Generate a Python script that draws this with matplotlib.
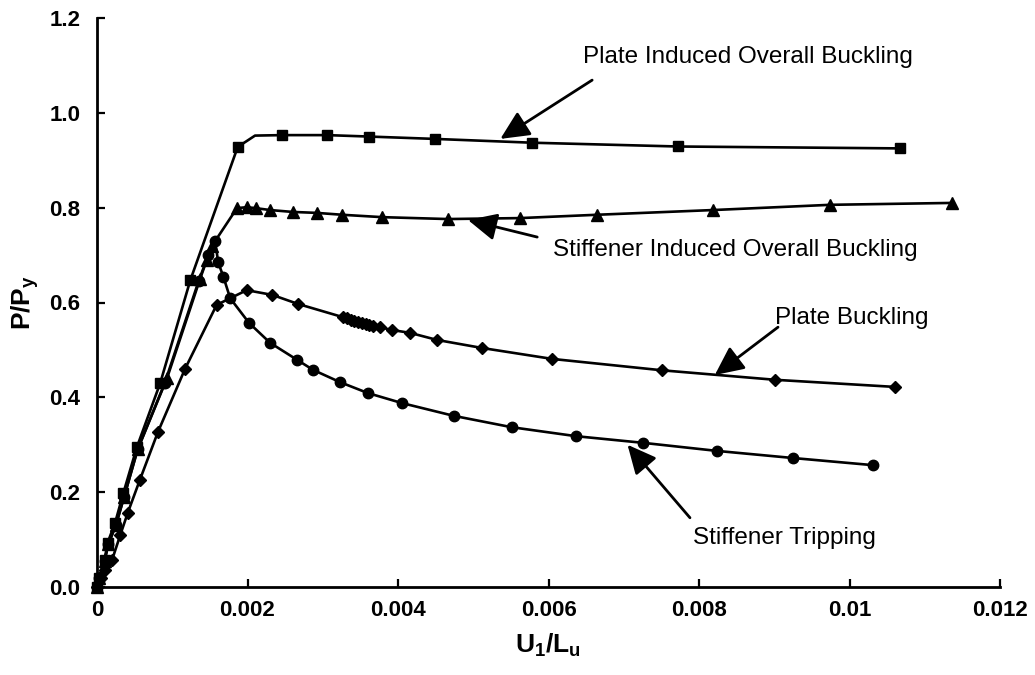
import matplotlib
matplotlib.use("Agg")
import matplotlib.pyplot as plt

plt.rcParams['font.family'] = ['Liberation Sans', 'DejaVu Sans']
plt.rcParams['mathtext.fontset'] = 'custom'
plt.rcParams['mathtext.rm'] = 'Liberation Sans'
plt.rcParams['mathtext.bf'] = 'Liberation Sans:bold'
plt.rcParams['mathtext.it'] = 'Liberation Sans:italic'

# Plate induced overall buckling (squares)
pio_u = [0, 0.00003, 0.0001, 0.00014, 0.00024, 0.00035, 0.00053, 0.00084, 0.00124,
         0.00187, 0.0021, 0.00246, 0.00306, 0.00361, 0.00449, 0.00578, 0.00772, 0.01067]
pio_v = [0, 0.02, 0.057, 0.093, 0.135, 0.198, 0.295, 0.43, 0.647,
         0.928, 0.952, 0.953, 0.953, 0.950, 0.945, 0.937, 0.929, 0.925]
pio_marked = [0, 1, 2, 3, 4, 5, 6, 7, 8, 9, 11, 12, 13, 14, 15, 16, 17]

# Stiffener induced overall buckling (triangles)
sio_u = [0, 0.00003, 0.0001, 0.00015, 0.00025, 0.00036, 0.00054, 0.00093, 0.00137,
         0.00146, 0.00153, 0.00186, 0.00199, 0.00211, 0.0023, 0.0026, 0.00292, 0.00326,
         0.00379, 0.00466, 0.00562, 0.00664, 0.00819, 0.00974, 0.01136]
sio_v = [0, 0.02, 0.055, 0.09, 0.13, 0.19, 0.29, 0.44, 0.65,
         0.69, 0.72, 0.799, 0.801, 0.799, 0.795, 0.791, 0.789, 0.785,
         0.780, 0.776, 0.778, 0.785, 0.795, 0.806, 0.810]

# Plate buckling (diamonds)
pb_u = [0, 0.00005, 0.0001, 0.0002, 0.00031, 0.00041, 0.00057, 0.00081, 0.00117,
        0.00159, 0.00199, 0.00233, 0.00267, 0.00327, 0.00332, 0.00337, 0.00342,
        0.00347, 0.00352, 0.00357, 0.00362, 0.00367, 0.00376, 0.00392, 0.00416,
        0.00452, 0.00512, 0.00605, 0.00751, 0.00901, 0.0106]
pb_v = [0, 0.02, 0.035, 0.057, 0.11, 0.157, 0.226, 0.327, 0.46,
        0.595, 0.626, 0.616, 0.597, 0.569, 0.567, 0.564, 0.562,
        0.559, 0.557, 0.555, 0.553, 0.551, 0.548, 0.542, 0.536,
        0.521, 0.504, 0.481, 0.457, 0.437, 0.422]

# Stiffener tripping (circles)
st_u = [0, 0.00003, 0.0001, 0.00015, 0.00025, 0.00036, 0.00054, 0.0009, 0.00135,
        0.00148, 0.00157, 0.00161, 0.00168, 0.00177, 0.00202, 0.0023, 0.00266,
        0.00287, 0.00323, 0.0036, 0.00405, 0.00474, 0.00551, 0.00637, 0.00726,
        0.00824, 0.00925, 0.01031]
st_v = [0, 0.02, 0.055, 0.09, 0.13, 0.19, 0.29, 0.43, 0.645,
        0.70, 0.73, 0.685, 0.654, 0.609, 0.557, 0.515, 0.479,
        0.458, 0.432, 0.409, 0.388, 0.361, 0.337, 0.318, 0.304,
        0.287, 0.272, 0.257]

x_ticks = [0, 0.002, 0.004, 0.006, 0.008, 0.010, 0.012]
x_tick_labels = ['0', '0.002', '0.004', '0.006', '0.008', '0.01', '0.012']
y_ticks = [0.0, 0.2, 0.4, 0.6, 0.8, 1.0, 1.2]
y_tick_labels = ['0.0', '0.2', '0.4', '0.6', '0.8', '1.0', '1.2']

# (label, text anchor, arrow tail, arrow tip) in data units
callouts = [
    ('Plate Induced Overall Buckling', (0.00646, 1.118), (0.00658, 1.069), (0.00536, 0.945)),
    ('Stiffener Induced Overall Buckling', (0.00606, 0.711), (0.00585, 0.738), (0.00493, 0.774)),
    ('Plate Buckling', (0.00901, 0.567), (0.00905, 0.548), (0.00821, 0.447)),
    ('Stiffener Tripping', (0.00792, 0.103), (0.00788, 0.146), (0.00705, 0.300)),
]

fig = plt.figure(figsize=(10.35, 6.75), dpi=100)
ax = fig.add_axes([97 / 1035, 1 - 587 / 675, 903 / 1035, 569 / 675])

lw = 1.9
ax.plot(pio_u, pio_v, '-', color='black', lw=lw, marker='s', ms=7.5,
        markevery=pio_marked, clip_on=False, zorder=3)
ax.plot(sio_u, sio_v, '-', color='black', lw=lw, marker='^', ms=8,
        clip_on=False, zorder=3)
ax.plot(pb_u, pb_v, '-', color='black', lw=lw, marker='D', ms=6,
        clip_on=False, zorder=3)
ax.plot(st_u, st_v, '-', color='black', lw=lw, marker='o', ms=7.5,
        clip_on=False, zorder=3)

for label, txt_pos, tail, tip in callouts:
    ax.text(txt_pos[0], txt_pos[1], label, ha='left', va='center',
            fontsize=17.5, color='black')
    ax.annotate('', xy=tip, xytext=tail,
                arrowprops=dict(arrowstyle='-|>,head_length=0.8,head_width=0.38',
                                mutation_scale=22, lw=2.0, color='black',
                                shrinkA=0, shrinkB=0))

ax.set_xlim(0, 0.012)
ax.set_ylim(0, 1.2)
ax.set_xticks(x_ticks)
ax.set_xticklabels(x_tick_labels)
ax.set_yticks(y_ticks)
ax.set_yticklabels(y_tick_labels)

for side in ('top', 'right'):
    ax.spines[side].set_visible(False)
for side in ('left', 'bottom'):
    ax.spines[side].set_linewidth(2.0)

ax.tick_params(axis='both', direction='in', length=6, width=1.6,
               labelsize=16)
ax.tick_params(axis='x', pad=9)
ax.tick_params(axis='y', pad=12)
for lab in ax.get_xticklabels() + ax.get_yticklabels():
    lab.set_fontweight('bold')

ax.set_xlabel(r'$\mathbf{U_1/L_u}$', fontsize=19, labelpad=8)
ax.set_ylabel(r'$\mathbf{P/P_y}$', fontsize=19, labelpad=6)

fig.savefig('out.png', dpi=100)
